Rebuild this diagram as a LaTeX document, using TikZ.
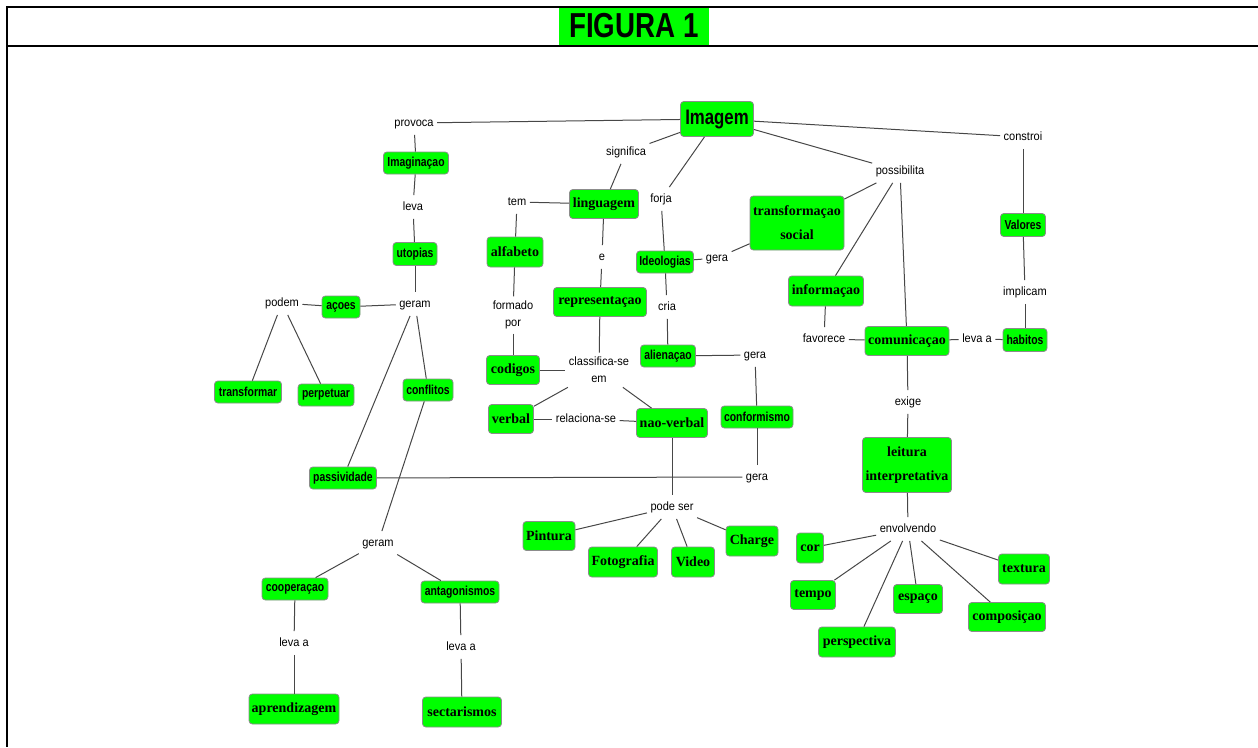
\documentclass[tikz,border=0pt]{standalone}
\usepackage{fontspec}
\setmainfont{Liberation Sans}
\newfontfamily\lblf{Liberation Sans}[FakeStretch=0.92]
\newfontfamily\bsf{Liberation Sans}[FakeStretch=0.8]
\newfontfamily\srf{Liberation Serif}
\definecolor{nodegreen}{RGB}{0,255,0}
\begin{document}
\begin{tikzpicture}[x=0.75pt,y=-0.75pt,
  lbltwo/.style={font=\lblf\fontsize{9}{13}\selectfont, inner xsep=2.5pt, inner ysep=3pt, align=center},
  lbl/.style={lbltwo, inner ysep=4.5pt, text height=6.5pt, text depth=2pt},
  bx/.style={draw=black!45, fill=nodegreen, rounded corners=2.5pt, inner sep=1pt, line width=0.6pt},
  sb/.style={bx, font=\bsf\bfseries\fontsize{9.75}{12}\selectfont},
  sr/.style={bx, font=\srf\bfseries\fontsize{10.5}{18}\selectfont, align=center},
  sz/.style 2 args={minimum width=#1*0.75pt, minimum height=#2*0.75pt},
  ln/.style={draw=black!72, line width=0.75pt}]
\useasboundingbox (0,0) rectangle (1258,747);
% title
\node[fill=nodegreen, inner sep=0pt, sz={150}{38}, font=\bsf\bfseries\fontsize{26}{28}\selectfont] (title) at (634,26) {FIGURA 1};
\draw[line width=1.5pt] (7,7) -- (1258,7);
\draw[line width=1.5pt] (7,45.5) -- (1258,45.5);
\draw[line width=1.5pt] (7,6) -- (7,747);
% nodes
\node[bx, sz={73}{35}, font=\bsf\bfseries\fontsize{15.75}{18}\selectfont] (img) at (717,119) {Imagem};
\node[lbl] (provoca) at (414,123) {provoca};
\node[sb, sz={65}{22}] (imag) at (416,163) {Imaginaçao};
\node[lbl] (leva1) at (413,207) {leva};
\node[sb, sz={44}{23}] (utop) at (415,254) {utopias};
\node[lbl] (geram1) at (415,304) {geram};
\node[sb, sz={38}{22}] (acoes) at (341,307) {açoes};
\node[lbl] (podem) at (282,303) {podem};
\node[sb, sz={67}{22}] (transf) at (248,392) {transformar};
\node[sb, sz={56}{22}] (perp) at (326,395) {perpetuar};
\node[sb, sz={50}{22}] (confl) at (428,390) {conflitos};
\node[sb, sz={67}{22}] (pass) at (343,478) {passividade};
\node[lbl] (geram2) at (378,543) {geram};
\node[sb, sz={66}{22}] (coop) at (295,589) {cooperaçao};
\node[sb, sz={78}{22}] (antag) at (460,592) {antagonismos};
\node[lbl] (levaa1) at (294,643) {leva a};
\node[lbl] (levaa2) at (461,647) {leva a};
\node[sr, sz={90}{30}] (aprend) at (294,709) {aprendizagem};
\node[sr, sz={79}{30}] (sect) at (462,712) {sectarismos};
\node[lbl] (signif) at (626,152) {significa};
\node[sr, sz={69}{29}] (ling) at (604,204) {linguagem};
\node[lbl] (tem) at (517,202) {tem};
\node[sr, sz={56}{30}] (alfa) at (515,252) {alfabeto};
\node[lbltwo] (formado) at (513,315) {formado\\por};
\node[sr, sz={53}{29}] (cod) at (513,370) {codigos};
\node[lbl] (e) at (602,257) {e};
\node[sr, sz={93}{29}] (repr) at (600,302) {representaçao};
\node[lbltwo] (class) at (599,370) {classifica-se\\em};
\node[sr, sz={45}{29}] (verbal) at (511,419) {verbal};
\node[lbl] (relac) at (586,419) {relaciona-se};
\node[sr, sz={71}{29}] (naov) at (672,423) {nao-verbal};
\node[lbl] (podeser) at (672,507) {pode ser};
\node[sr, sz={52}{29}] (pint) at (549,536) {Pintura};
\node[sr, sz={69}{30}] (foto) at (623,562) {Fotografia};
\node[sr, sz={43}{30}] (video) at (693,562) {Video};
\node[sr, sz={52}{30}] (charge) at (752,541) {Charge};
\node[lbl] (forja) at (661,199) {forja};
\node[sb, sz={57}{22}] (ideo) at (665,262) {Ideologias};
\node[lbl] (gera1) at (717,258) {gera};
\node[sr, sz={94}{54}] (tsoc) at (797,223) {transformaçao\\social};
\node[lbl] (cria) at (667,307) {cria};
\node[sb, sz={55}{22}] (alien) at (668,356) {alienaçao};
\node[lbl] (gera2) at (755,355) {gera};
\node[sb, sz={72}{22}] (conf) at (757,417) {conformismo};
\node[lbl] (gera3) at (757,477) {gera};
\node[lbl] (possib) at (900,171) {possibilita};
\node[sr, sz={75}{30}] (info) at (826,291) {informaçao};
\node[lbl] (favor) at (824,339) {favorece};
\node[sr, sz={84}{29}] (comun) at (907,341) {comunicaçao};
\node[lbl] (levaa3) at (977,339) {leva a};
\node[lbl] (constroi) at (1023,137) {constroi};
\node[sb, sz={45}{23}] (valores) at (1023,225) {Valores};
\node[lbl] (implicam) at (1025,292) {implicam};
\node[sb, sz={44}{23}] (habitos) at (1025,340) {habitos};
\node[lbl] (exige) at (908,402) {exige};
\node[sr, sz={89}{55}] (leit) at (907,465) {leitura\\interpretativa};
\node[lbl] (envolv) at (908,529) {envolvendo};
\node[sr, sz={27}{30}] (cor) at (810,548) {cor};
\node[sr, sz={45}{29}] (tempo) at (813,595) {tempo};
\node[sr, sz={77}{30}] (persp) at (857,642) {perspectiva};
\node[sr, sz={49}{29}] (espaco) at (918,599) {espaço};
\node[sr, sz={77}{29}] (compos) at (1007,617) {composiçao};
\node[sr, sz={51}{30}] (textura) at (1024,569) {textura};
% connectors
\draw[ln] (img) -- (provoca);
\draw[ln] (provoca) -- (imag);
\draw[ln] (imag) -- (leva1);
\draw[ln] (leva1) -- (utop);
\draw[ln] (utop) -- (geram1);
\draw[ln] (geram1) -- (acoes);
\draw[ln] (acoes) -- (podem);
\draw[ln] (podem) -- (transf);
\draw[ln] (podem) -- (perp);
\draw[ln] (geram1) -- (pass);
\draw[ln] (geram1) -- (confl);
\draw[ln] (confl) -- (geram2);
\draw[ln] (geram2) -- (coop);
\draw[ln] (geram2) -- (antag);
\draw[ln] (coop) -- (levaa1);
\draw[ln] (levaa1) -- (aprend);
\draw[ln] (antag) -- (levaa2);
\draw[ln] (levaa2) -- (sect);
\draw[ln] (pass) -- (gera3);
\draw[ln] (gera3) -- (conf);
\draw[ln] (conf) -- (gera2);
\draw[ln] (gera2) -- (alien);
\draw[ln] (alien) -- (cria);
\draw[ln] (cria) -- (ideo);
\draw[ln] (ideo) -- (forja);
\draw[ln] (forja) -- (img);
\draw[ln] (ideo) -- (gera1);
\draw[ln] (gera1) -- (tsoc);
\draw[ln] (img) -- (signif);
\draw[ln] (signif) -- (ling);
\draw[ln] (ling) -- (tem);
\draw[ln] (tem) -- (alfa);
\draw[ln] (alfa) -- (formado);
\draw[ln] (formado) -- (cod);
\draw[ln] (cod) -- (class);
\draw[ln] (ling) -- (e);
\draw[ln] (e) -- (repr);
\draw[ln] (repr) -- (class);
\draw[ln] (class) -- (verbal);
\draw[ln] (class) -- (naov);
\draw[ln] (verbal) -- (relac);
\draw[ln] (relac) -- (naov);
\draw[ln] (naov) -- (podeser);
\draw[ln] (podeser) -- (pint);
\draw[ln] (podeser) -- (foto);
\draw[ln] (podeser) -- (video);
\draw[ln] (podeser) -- (charge);
\draw[ln] (img) -- (possib);
\draw[ln] (possib) -- (tsoc);
\draw[ln] (possib) -- (info);
\draw[ln] (possib) -- (comun);
\draw[ln] (info) -- (favor);
\draw[ln] (favor) -- (comun);
\draw[ln] (img) -- (constroi);
\draw[ln] (constroi) -- (valores);
\draw[ln] (valores) -- (implicam);
\draw[ln] (implicam) -- (habitos);
\draw[ln] (comun) -- (levaa3);
\draw[ln] (levaa3) -- (habitos);
\draw[ln] (comun) -- (exige);
\draw[ln] (exige) -- (leit);
\draw[ln] (leit) -- (envolv);
\draw[ln] (envolv) -- (cor);
\draw[ln] (envolv) -- (tempo);
\draw[ln] (envolv) -- (persp);
\draw[ln] (envolv) -- (espaco);
\draw[ln] (envolv) -- (compos);
\draw[ln] (envolv) -- (textura);
\end{tikzpicture}
\end{document}
